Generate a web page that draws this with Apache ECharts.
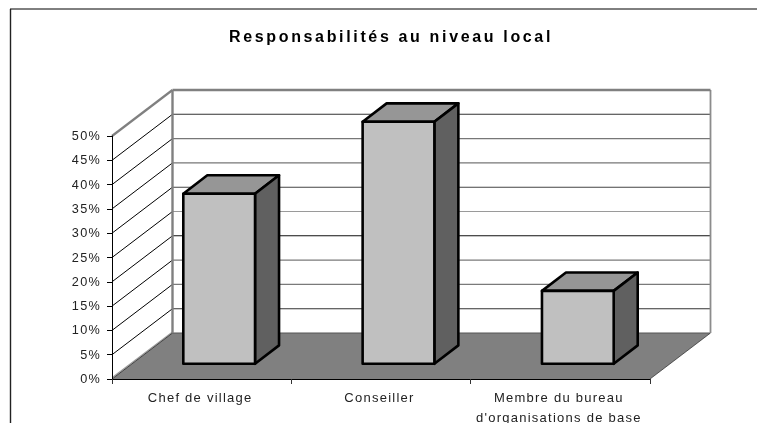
<!DOCTYPE html>
<html>
<head>
<meta charset="utf-8">
<style>
html,body{margin:0;padding:0;background:#fff;overflow:hidden}
#c{width:757px;height:423px;filter:blur(0.35px)}
svg text{letter-spacing:1.25px}
svg text[style*="bold"]{letter-spacing:2.65px}
</style>
<script src="https://cdn.jsdelivr.net/npm/echarts@6/dist/echarts.min.js"></script>
</head>
<body>
<div id="c"></div>
<script>
const titleText = "Responsabilités au niveau local";
const categories = ["Chef de village", "Conseiller", "Membre du bureau\nd'organisations de base"];
const values = [35, 49.8, 15];
const yTicks = [0, 5, 10, 15, 20, 25, 30, 35, 40, 45, 50];
const backLineColors = ["#6e6e6e","#333333","#7a7a7a","#7a7a7a","#111111","#9a9a9a","#444444","#777777","#777777","#333333","#808080"];

const WALL_DX = 60.5, WALL_DY = 46;
const BAR_WIDTH = 0.4, BAR_SHIFT = 17.5, BAR_FRONT_DY = 15.2, BAR_DX = 24, BAR_DY = 18.4;

const chart = echarts.init(document.getElementById('c'), null, {renderer: 'svg'});

function lineEl(x1, y1, x2, y2, stroke, lineWidth) {
  return {type: 'line', shape: {x1, y1, x2, y2}, style: {stroke, lineWidth, fill: null}, silent: true};
}
function polyEl(points, fill, stroke, lineWidth) {
  return {type: 'polygon', shape: {points}, style: {fill, stroke: stroke || null, lineWidth: lineWidth || 0, lineJoin: 'round'}, silent: true};
}

function renderFrame(params, api) {
  const half = api.size([1, 0])[0] / 2;
  const a0 = api.coord([0, 0]), a1 = api.coord([2, 50]);
  const xL = a0[0] - half, xR = a1[0] + half, y0 = a0[1], yT = a1[1];
  const children = [];
  children.push(polyEl([[xL, y0], [xL, yT], [xL + WALL_DX, yT - WALL_DY], [xL + WALL_DX, y0 - WALL_DY]], '#ffffff'));
  children.push(polyEl([[xL + WALL_DX, y0 - WALL_DY], [xL + WALL_DX, yT - WALL_DY], [xR + WALL_DX, yT - WALL_DY], [xR + WALL_DX, y0 - WALL_DY]], '#ffffff'));
  yTicks.forEach((t, i) => {
    if (t === 0 || t === 50) return;
    const y = api.coord([0, t])[1];
    children.push(lineEl(xL, y, xL + WALL_DX, y - WALL_DY, '#000000', 1));
    children.push(lineEl(xL + WALL_DX, y - WALL_DY, xR + WALL_DX, y - WALL_DY, backLineColors[i], 1.1));
  });
  children.push(polyEl([[xL, y0], [xL + WALL_DX, y0 - WALL_DY], [xR + WALL_DX, y0 - WALL_DY], [xR, y0]], '#808080'));
  children.push(lineEl(xL + WALL_DX, y0 - WALL_DY, xR + WALL_DX, y0 - WALL_DY, '#555555', 1));
  children.push(lineEl(xL + 1, y0 - 2, xL + WALL_DX, y0 - WALL_DY - 1, '#9a9a9a', 1.2));
  children.push(lineEl(xL, y0, xL + WALL_DX, y0 - WALL_DY, '#222222', 0.8));
  children.push(lineEl(xR + 1, y0, xR + WALL_DX + 1, y0 - WALL_DY, '#ffffff', 1));
  children.push(lineEl(xR, y0, xR + WALL_DX, y0 - WALL_DY, '#333333', 0.8));
  children.push(lineEl(xL + WALL_DX, y0 - WALL_DY, xL + WALL_DX, yT - WALL_DY, '#808080', 2.4));
  children.push(lineEl(xR + WALL_DX, y0 - WALL_DY, xR + WALL_DX, yT - WALL_DY, '#8c8c8c', 1.8));
  children.push(lineEl(xL + WALL_DX, yT - WALL_DY, xR + WALL_DX, yT - WALL_DY, '#808080', 2.4));
  children.push(lineEl(xL, yT, xL + WALL_DX, yT - WALL_DY, '#808080', 2.2));
  return {type: 'group', children};
}

function renderBar(params, api) {
  const idx = api.value(0), val = api.value(1);
  const top = api.coord([idx, val]), base = api.coord([idx, 0]);
  const band = api.size([1, 0])[0];
  const w = band * BAR_WIDTH;
  const x1 = base[0] + BAR_SHIFT - w / 2, x2 = x1 + w;
  const yB = base[1] - BAR_FRONT_DY, yT = top[1] - BAR_FRONT_DY;
  const lw = 2.6;
  return {type: 'group', children: [
    polyEl([[x1, yT], [x1 + BAR_DX, yT - BAR_DY], [x2 + BAR_DX, yT - BAR_DY], [x2, yT]], '#969696', '#000', lw),
    polyEl([[x2, yT], [x2 + BAR_DX, yT - BAR_DY], [x2 + BAR_DX, yB - BAR_DY], [x2, yB]], '#606060', '#000', lw),
    polyEl([[x1, yT], [x2, yT], [x2, yB], [x1, yB]], '#c0c0c0', '#000', lw)
  ]};
}

chart.setOption({
  animation: false,
  backgroundColor: '#ffffff',
  title: {
    text: titleText, left: 386, top: 23, textAlign: 'center',
    textStyle: {fontFamily: '"Liberation Sans", Arial, sans-serif', fontSize: 16, fontWeight: 'bold', color: '#000'}
  },
  grid: {left: 112, right: 107, top: 136, bottom: 44, outerBoundsMode: 'none'},
  xAxis: {
    type: 'category', data: categories, z: 5,
    axisLine: {lineStyle: {color: '#000', width: 1}},
    axisTick: {show: true, length: 5, lineStyle: {color: '#333', width: 1}},
    axisLabel: {interval: 0, margin: 8, lineHeight: 20, color: '#222', hideOverlap: false, padding: [0, 3, 0, 0],
      fontFamily: '"Liberation Sans", Arial, sans-serif', fontSize: 13}
  },
  yAxis: {
    type: 'value', min: 0, max: 50, interval: 5, z: 5,
    axisLine: {show: true, lineStyle: {color: '#000', width: 1}},
    axisTick: {show: true, length: 5, lineStyle: {color: '#000', width: 1}},
    splitLine: {show: false},
    axisLabel: {formatter: '{value}%', margin: 11, color: '#222',
      fontFamily: '"Liberation Sans", Arial, sans-serif', fontSize: 12.7}
  },
  series: [
    {type: 'custom', name: 'frame', renderItem: renderFrame, data: [[0, 0]], z: 1, silent: true, clip: false},
    {type: 'custom', name: 'bars', renderItem: renderBar, data: values.map((v, i) => [i, v]), z: 2, silent: true, clip: false}
  ],
  graphic: [
    {type: 'line', z: 10, shape: {x1: 10, y1: 9, x2: 757, y2: 9}, style: {stroke: '#000', lineWidth: 1}},
    {type: 'line', z: 10, shape: {x1: 10.5, y1: 9, x2: 10.5, y2: 423}, style: {stroke: '#222', lineWidth: 1.4}}
  ]
});
</script>
</body>
</html>
